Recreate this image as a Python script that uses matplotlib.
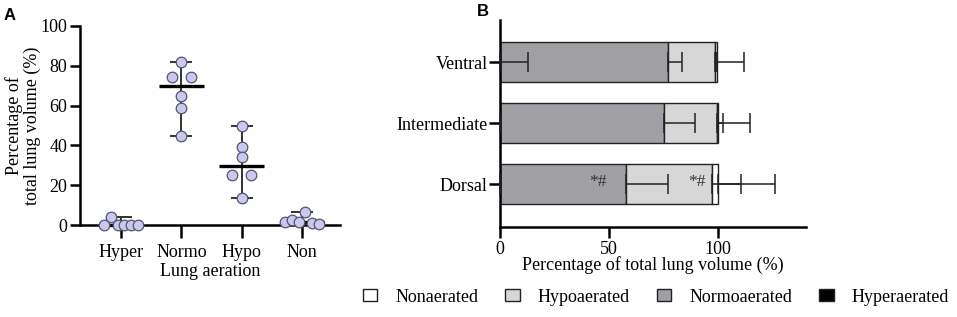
import numpy as np
import matplotlib
matplotlib.use('Agg')
import matplotlib.pyplot as plt
from matplotlib.patches import Patch

plt.rcParams['font.family'] = ['Liberation Serif', 'DejaVu Serif']
plt.rcParams['font.size'] = 13

# Panel A: individual values per aeration class (left-to-right order as drawn)
AERATION = ['Hyper', 'Normo', 'Hypo', 'Non']
HYPER_VALS = [0.0, 4.2, 0.0, 0.0, 0.0, 0.0]
NORMO_VALS = [82.0, 74.5, 74.5, 65.0, 59.0, 44.5]
HYPO_VALS = [49.5, 39.0, 34.0, 25.0, 25.0, 13.5]
NON_VALS = [1.4, 2.5, 1.7, 6.4, 0.8, 0.4]

# Panel B: regional means and SDs (stacked)
REGIONS = ['Dorsal', 'Intermediate', 'Ventral']
HYPER_MEAN = [0.1, 0.2, 0.2]
HYPER_SD = [0.1, 0.3, 12.8]
NORMO_MEAN = [57.6, 75.3, 76.8]
NORMO_SD = [19.3, 14.0, 6.5]
HYPO_MEAN = [39.8, 24.3, 21.8]
HYPO_SD = [13.2, 15.0, 13.4]
NONA_MEAN = [2.5, 0.2, 0.7]
NONA_SD = [26.3, 2.3, 0.3]

C_HYPER = 'black'
C_NORMO = '#a0a0a4'
C_HYPO = '#d7d7d7'
C_NONA = 'white'

fig = plt.figure(figsize=(9.57, 3.17), dpi=100)

# ---------------- Panel A ----------------
axA = fig.add_axes([80 / 957, 1 - 225 / 317, 260 / 957, 199 / 317])
axA.set_xlim(-0.68, 3.63)
axA.set_ylim(0, 100)
px_per_cat = 60.0
px_per_unit = 1.99


def swarm_offsets(vals):
    """ group close values into rows and spread each row around the centre """
    vals = np.asarray(vals)
    order = np.argsort(vals, kind='stable')
    rows, cur = [], [order[0]]
    for i in order[1:]:
        if (vals[i] - vals[cur[-1]]) * px_per_unit < 9:
            cur.append(i)
        else:
            rows.append(cur)
            cur = [i]
    rows.append(cur)
    off = np.zeros(len(vals))
    for r in rows:
        r = sorted(r)
        n = len(r)
        if n == 1:
            continue
        s = min(19.0, 34.0 / (n - 1))
        for k, i in enumerate(r):
            off[i] = (k - (n - 1) / 2) * s / px_per_cat
    return off


for i, vals in enumerate([HYPER_VALS, NORMO_VALS, HYPO_VALS, NON_VALS]):
    med = np.median(vals)
    lo, hi = min(vals), max(vals)
    axA.errorbar([i], [med], yerr=[[med - lo], [hi - med]], fmt='none',
                 ecolor='#333333', elinewidth=1.4, capsize=7.8, capthick=1.4,
                 clip_on=False, zorder=3)
    axA.plot([i - 0.37, i + 0.37], [med, med], color='black', lw=2.4,
             solid_capstyle='butt', zorder=4, clip_on=False)
    axA.scatter(i + swarm_offsets(vals), vals, s=58, facecolor='#c8c8f0',
                edgecolor='#55556a', linewidth=0.9, zorder=5, clip_on=False)

axA.set_xticks(range(4))
axA.set_xticklabels(AERATION)
axA.set_yticks(range(0, 101, 20))
axA.spines['top'].set_visible(False)
axA.spines['right'].set_visible(False)
for s in ['left', 'bottom']:
    axA.spines[s].set_linewidth(1.8)
axA.tick_params(axis='x', length=9, width=1.8, pad=5)
axA.tick_params(axis='y', length=7, width=1.8, pad=2)
axA.set_xlabel('Lung aeration', labelpad=1)
axA.set_ylabel('Percentage of\ntotal lung volume (%)', linespacing=1.0, labelpad=0)

# ---------------- Panel B ----------------
axB = fig.add_axes([500 / 957, 1 - 227 / 317, 306 / 957, 207 / 317])
axB.set_xlim(0, 140.6)
axB.set_ylim(-0.705, 2.69)
y = np.arange(len(REGIONS))
h = 0.656

left = np.zeros(len(REGIONS))
segs = [(HYPER_MEAN, HYPER_SD, C_HYPER), (NORMO_MEAN, NORMO_SD, C_NORMO),
        (HYPO_MEAN, HYPO_SD, C_HYPO), (NONA_MEAN, NONA_SD, C_NONA)]
for mean, sd, col in segs:
    mean = np.asarray(mean)
    axB.barh(y, mean, left=left, height=h, color=col, edgecolor='#222222',
             linewidth=1.0, zorder=2)
    left = left + mean
    axB.errorbar(left, y, xerr=[np.zeros(len(sd)), sd], fmt='none',
                 ecolor='#222222', elinewidth=1.1, capsize=7.2, capthick=1.1,
                 zorder=3, clip_on=False)

axB.text(45, 0.04, '*#', ha='center', va='center', fontsize=12.5, color='#333333')
axB.text(90.5, 0.04, '*#', ha='center', va='center', fontsize=12.5, color='#333333')

axB.set_yticks(y)
axB.set_yticklabels(REGIONS)
axB.set_xticks([0, 50, 100])
axB.spines['top'].set_visible(False)
axB.spines['right'].set_visible(False)
for s in ['left', 'bottom']:
    axB.spines[s].set_linewidth(1.8)
axB.tick_params(axis='x', length=8, width=1.8, pad=2)
axB.tick_params(axis='y', length=8, width=1.8, pad=1)
axB.set_xlabel('Percentage of total lung volume (%)', labelpad=-1)

handles = [Patch(facecolor=C_NONA, edgecolor='#222222', label='Nonaerated'),
           Patch(facecolor=C_HYPO, edgecolor='#222222', label='Hypoaerated'),
           Patch(facecolor=C_NORMO, edgecolor='#222222', label='Normoaerated'),
           Patch(facecolor=C_HYPER, edgecolor='#222222', label='Hyperaerated')]
fig.legend(handles=handles, loc='center', bbox_to_anchor=(656 / 957, 1 - 297 / 317),
           ncol=4, frameon=False, handlelength=0.8, handleheight=0.6,
           handletextpad=1.0, columnspacing=1.5, borderpad=0)

fig.text(10 / 957, 1 - 15 / 317, 'A', family=['Liberation Sans', 'DejaVu Sans'],
         fontweight='bold', fontsize=12, ha='center', va='center')
fig.text(483 / 957, 1 - 12 / 317, 'B', family=['Liberation Sans', 'DejaVu Sans'],
         fontweight='bold', fontsize=12, ha='center', va='center')

fig.savefig('out.png', dpi=100)
